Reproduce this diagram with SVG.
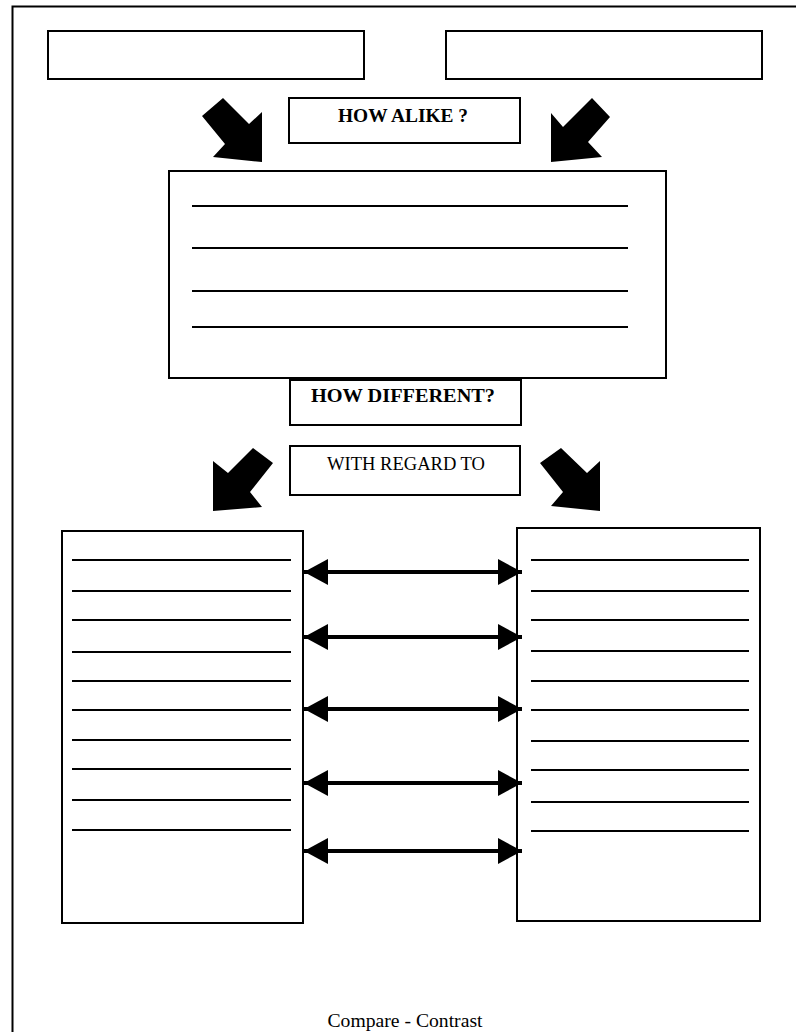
<svg xmlns="http://www.w3.org/2000/svg" width="796" height="1032" viewBox="0 0 796 1032">
<style>
.box{fill:#fff;stroke:#000;stroke-width:2}
.rule{stroke:#000;stroke-width:2}
.lbl{font-family:"Liberation Serif","Times New Roman",serif;font-size:18px;fill:#000;text-anchor:middle}
.b{font-weight:bold}
.big{fill:#000}
.dbl{stroke:#000;stroke-width:4;fill:none}
</style>
<defs>
<marker id="ah" markerUnits="userSpaceOnUse" markerWidth="24" markerHeight="26" refX="24" refY="13" orient="auto-start-reverse">
<path d="M0,0 L24,13 L0,26 Z" fill="#000"/>
</marker>
</defs>
<rect width="796" height="1032" fill="#fff"/>
<g id="frame">
<path d="M12.5,1032 V6.5 H796" fill="none" stroke="#000" stroke-width="2"/>
</g>
<g id="item1"><rect class="box" x="48" y="31" width="316" height="48"/></g>
<g id="item2"><rect class="box" x="446" y="31" width="316" height="48"/></g>
<g id="how-alike"><rect class="box" x="289" y="98" width="231" height="45"/>
<text class="lbl b" x="403" y="122" textLength="130" lengthAdjust="spacingAndGlyphs">HOW ALIKE ?</text></g>
<g id="alike-box"><rect class="box" x="169" y="171" width="497" height="207"/>
<line class="rule" x1="192" y1="206" x2="628" y2="206"/>
<line class="rule" x1="192" y1="248" x2="628" y2="248"/>
<line class="rule" x1="192" y1="291" x2="628" y2="291"/>
<line class="rule" x1="192" y1="327" x2="628" y2="327"/></g>
<g id="how-different"><rect class="box" x="290" y="380" width="231" height="45"/>
<text class="lbl b" x="403" y="402" textLength="184" lengthAdjust="spacingAndGlyphs">HOW DIFFERENT?</text></g>
<g id="with-regard"><rect class="box" x="290" y="446" width="230" height="49"/>
<text class="lbl" x="406" y="470" textLength="158" lengthAdjust="spacingAndGlyphs">WITH REGARD TO</text></g>
<g id="diff-left"><rect class="box" x="62" y="531" width="241" height="392"/>
<g class="rule">
<line x1="72" y1="560" x2="291" y2="560"/><line x1="72" y1="591" x2="291" y2="591"/>
<line x1="72" y1="620" x2="291" y2="620"/><line x1="72" y1="652" x2="291" y2="652"/>
<line x1="72" y1="681" x2="291" y2="681"/><line x1="72" y1="710" x2="291" y2="710"/>
<line x1="72" y1="740" x2="291" y2="740"/><line x1="72" y1="769" x2="291" y2="769"/>
<line x1="72" y1="800" x2="291" y2="800"/><line x1="72" y1="830" x2="291" y2="830"/>
</g></g>
<g id="diff-right"><rect class="box" x="517" y="528" width="243" height="393"/>
<g class="rule">
<line x1="531" y1="560" x2="749" y2="560"/><line x1="531" y1="591" x2="749" y2="591"/>
<line x1="531" y1="620" x2="749" y2="620"/><line x1="531" y1="651" x2="749" y2="651"/>
<line x1="531" y1="681" x2="749" y2="681"/><line x1="531" y1="710" x2="749" y2="710"/>
<line x1="531" y1="741" x2="749" y2="741"/><line x1="531" y1="770" x2="749" y2="770"/>
<line x1="531" y1="802" x2="749" y2="802"/><line x1="531" y1="831" x2="749" y2="831"/>
</g></g>
<g id="connectors">
<polygon class="big" points="202,116 223,98 249,124 262,112 262,162 213,157 225,144"/>
<polygon class="big" points="592,98 610,117 588,142 602,157 551,162 551,113 563,127"/>
<polygon class="big" points="253,448 273,463 250,492 262,507 213,511 213,461 228,473"/>
<polygon class="big" points="561,448 540,463 563,492 551,506 600,511 600,461 587,473"/>
<line class="dbl" x1="304" y1="572" x2="522" y2="572" marker-start="url(#ah)" marker-end="url(#ah)"/>
<line class="dbl" x1="304" y1="637" x2="522" y2="637" marker-start="url(#ah)" marker-end="url(#ah)"/>
<line class="dbl" x1="304" y1="709" x2="522" y2="709" marker-start="url(#ah)" marker-end="url(#ah)"/>
<line class="dbl" x1="304" y1="783" x2="522" y2="783" marker-start="url(#ah)" marker-end="url(#ah)"/>
<line class="dbl" x1="304" y1="851" x2="522" y2="851" marker-start="url(#ah)" marker-end="url(#ah)"/>
</g>
<g id="title"><text class="lbl" x="405" y="1027" font-size="17" textLength="155" lengthAdjust="spacingAndGlyphs">Compare - Contrast</text></g>
</svg>
